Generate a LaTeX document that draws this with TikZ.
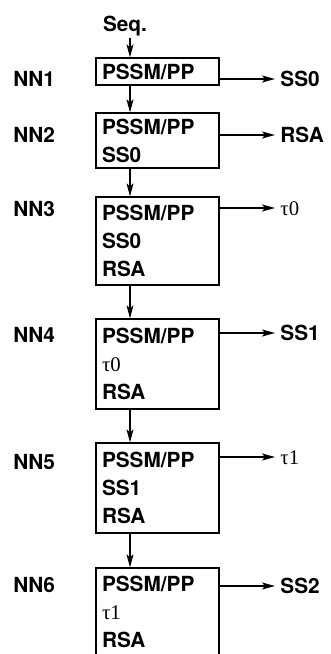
\documentclass[tikz,border=0pt]{standalone}
\usepackage{fontspec}
\setmainfont{TeX Gyre Heros}
\newfontfamily\timesfont{Liberation Serif}
\usetikzlibrary{arrows.meta}
\newcommand{\tauval}[1]{{\timesfont\mdseries τ#1}}

\begin{document}
\begin{tikzpicture}[x=0.5pt,y=-0.5pt,
    every node/.style={font=\bfseries\fontsize{10.4}{14}\selectfont},
    arr/.style={-{Stealth[length=6.5pt,width=3.5pt,inset=1.5pt]},line width=0.55pt},
    netbox/.style={draw,line width=0.65pt,align=left,text width=55.5pt,
      inner xsep=3pt,inner ysep=0pt,minimum width=61.5pt},
    netname/.style={anchor=west,inner sep=0pt,text height=7pt,text depth=0pt},
    outname/.style={anchor=west,inner xsep=2.5pt,inner ysep=0pt,
      text height=7pt,text depth=0pt}]
  \useasboundingbox (0,0) rectangle (331,654);
  \node[inner sep=1pt] (seq) at (125,26) {Seq.};
  \coordinate (spine) at (130,0);
  % one row per network: label, input box, output
  \foreach \i/\ny/\oy/\by/\bh/\txt/\out in {
      1/79/79/71.5/27/{PSSM/PP}/SS0,
      2/135/135/140.5/55/{PSSM/PP\\SS0}/RSA,
      3/209/208/241/88/{PSSM/PP\\SS0\\RSA}/{\tauval{0}},
      4/335/333/364/90/{PSSM/PP\\\tauval{0}\\RSA}/SS1,
      5/462/457/488/90/{PSSM/PP\\SS1\\RSA}/{\tauval{1}},
      6/585/586/612/88/{PSSM/PP\\\tauval{1}\\RSA}/SS2}{
    \node[netname] (nn\i) at (13,\ny) {NN\i};
    \node[netbox,minimum height=\bh*0.5pt] (b\i) at (157.5,\by) {\txt};
    \node[outname] (o\i) at (275,\oy) {\out};
    \draw[arr] (b\i.east |- o\i.west) -- (o\i.west);
  }
  \draw[arr] (seq.south -| spine) -- (b1.north -| spine);
  \foreach \i/\j in {1/2,2/3,3/4,4/5,5/6}
    \draw[arr] (b\i.south -| spine) -- (b\j.north -| spine);
\end{tikzpicture}
\end{document}
